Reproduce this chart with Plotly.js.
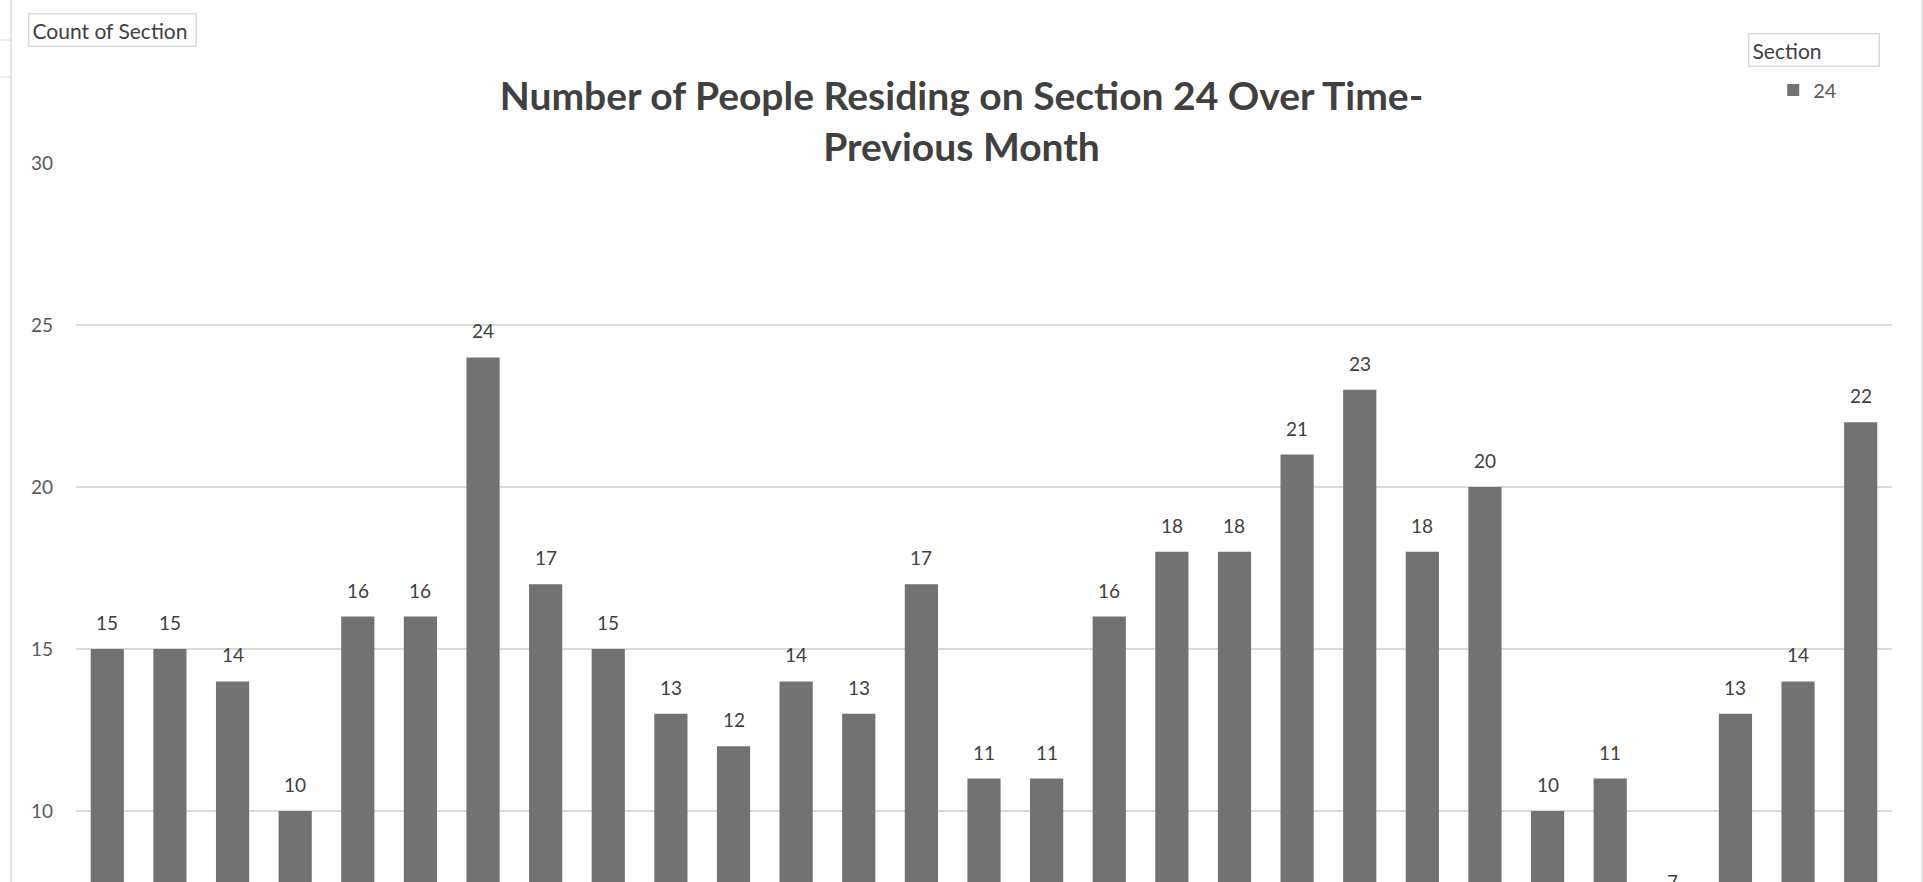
<!DOCTYPE html>
<html>
<head>
<meta charset="utf-8">
<script src="https://cdn.plot.ly/plotly-3.0.1.min.js"></script>
<style>
  html, body { margin: 0; padding: 0; overflow: hidden; background: #ffffff; }
  #chart { width: 1923px; height: 1150px; }
</style>
</head>
<body>
<div id="chart"></div>
<script>
// ---- data ----
var categories = ["Day 1","Day 2","Day 3","Day 4","Day 5","Day 6","Day 7","Day 8","Day 9","Day 10",
                  "Day 11","Day 12","Day 13","Day 14","Day 15","Day 16","Day 17","Day 18","Day 19","Day 20",
                  "Day 21","Day 22","Day 23","Day 24","Day 25","Day 26","Day 27","Day 28","Day 29"];
var counts = [15, 15, 14, 10, 16, 16, 24, 17, 15, 13, 12, 14, 13, 17, 11, 11, 16, 18, 18, 21, 23, 18, 20, 10, 11, 7, 13, 14, 22];
var seriesName = "24";
var yTicks = [0, 5, 10, 15, 20, 25, 30];
var titleText = "Number of People Residing on Section 24 Over Time-<br>Previous Month";

var FONT = "Lato, 'Open Sans', 'Liberation Sans', sans-serif";

var trace = {
  type: "bar",
  x: categories,
  y: counts,
  name: seriesName,
  marker: { color: "#727272", line: { width: 0 } },
  hoverinfo: "x+y",
  showlegend: true
};

var labelAnnotations = counts.map(function (v, i) {
  return {
    x: categories[i], y: v, xref: "x", yref: "y",
    text: String(v), showarrow: false, yanchor: "bottom", yshift: 13,
    font: { family: FONT, size: 19, color: "#404040" }
  };
});

var extraAnnotations = [
  {
    xref: "paper", yref: "paper", x: -0.0264, y: 1.1543, xanchor: "left", yanchor: "top",
    text: "Count of Section&nbsp;", showarrow: false, align: "left",
    bordercolor: "#d9d9d9", borderwidth: 1.5, borderpad: 3, bgcolor: "#ffffff",
    font: { family: FONT, size: 21, color: "#404040" }
  },
  {
    xref: "paper", yref: "paper", x: 0.9207, y: 1.1337, xanchor: "left", yanchor: "top",
    text: "Section&nbsp;&nbsp;&nbsp;&nbsp;&nbsp;&nbsp;&nbsp;&nbsp;&nbsp;&nbsp;", showarrow: false, align: "left",
    bordercolor: "#d9d9d9", borderwidth: 1.5, borderpad: 3, bgcolor: "#ffffff",
    font: { family: FONT, size: 21, color: "#404040" }
  }
];

var layout = {
  width: 1923,
  height: 1150,
  margin: { l: 76, r: 31, t: 163, b: 15 },
  paper_bgcolor: "#ffffff",
  plot_bgcolor: "#ffffff",
  bargap: 0.47,
  title: {
    text: titleText,
    x: 0.5, xref: "container", xanchor: "center",
    y: 1 - 110 / 1150, yref: "container", yanchor: "top",
    font: { family: FONT, size: 39, color: "#404040", weight: "bold" }
  },
  xaxis: {
    type: "category",
    showgrid: false,
    showline: false,
    zeroline: false,
    tickfont: { family: FONT, size: 18, color: "#595959" }
  },
  yaxis: {
    range: [0, 30],
    tickvals: yTicks,
    showgrid: true,
    gridcolor: "#d9d9d9",
    gridwidth: 1.3,
    zeroline: false,
    showline: false,
    ticks: "",
    ticklabelstandoff: 22,
    tickfont: { family: FONT, size: 19, color: "#595959" }
  },
  showlegend: true,
  legend: {
    x: 0.9346, y: 1.0751, xanchor: "left", yanchor: "middle",
    bgcolor: "rgba(0,0,0,0)",
    font: { family: FONT, size: 20, color: "#595959" },
    itemwidth: 30
  },
  annotations: labelAnnotations.concat(extraAnnotations),
  shapes: [
    { type: "line", xref: "paper", yref: "paper", x0: -0.0358, x1: -0.0358, y0: -0.1, y1: 1.2,
      line: { color: "#d9d9d9", width: 1.5 } },
    { type: "line", xref: "paper", yref: "paper", x0: 1.0165, x1: 1.0165, y0: -0.1, y1: 1.2,
      line: { color: "#d9d9d9", width: 1.5 } },
    { type: "line", xref: "paper", yref: "paper", x0: -0.042, x1: -0.0358, y0: 1.1265, y1: 1.1265,
      line: { color: "#d9d9d9", width: 1 } },
    { type: "line", xref: "paper", yref: "paper", x0: -0.042, x1: -0.0358, y0: 1.0885, y1: 1.0885,
      line: { color: "#d9d9d9", width: 1 } }
  ]
};

Plotly.newPlot("chart", [trace], layout, { displayModeBar: false, staticPlot: true });
</script>
</body>
</html>
